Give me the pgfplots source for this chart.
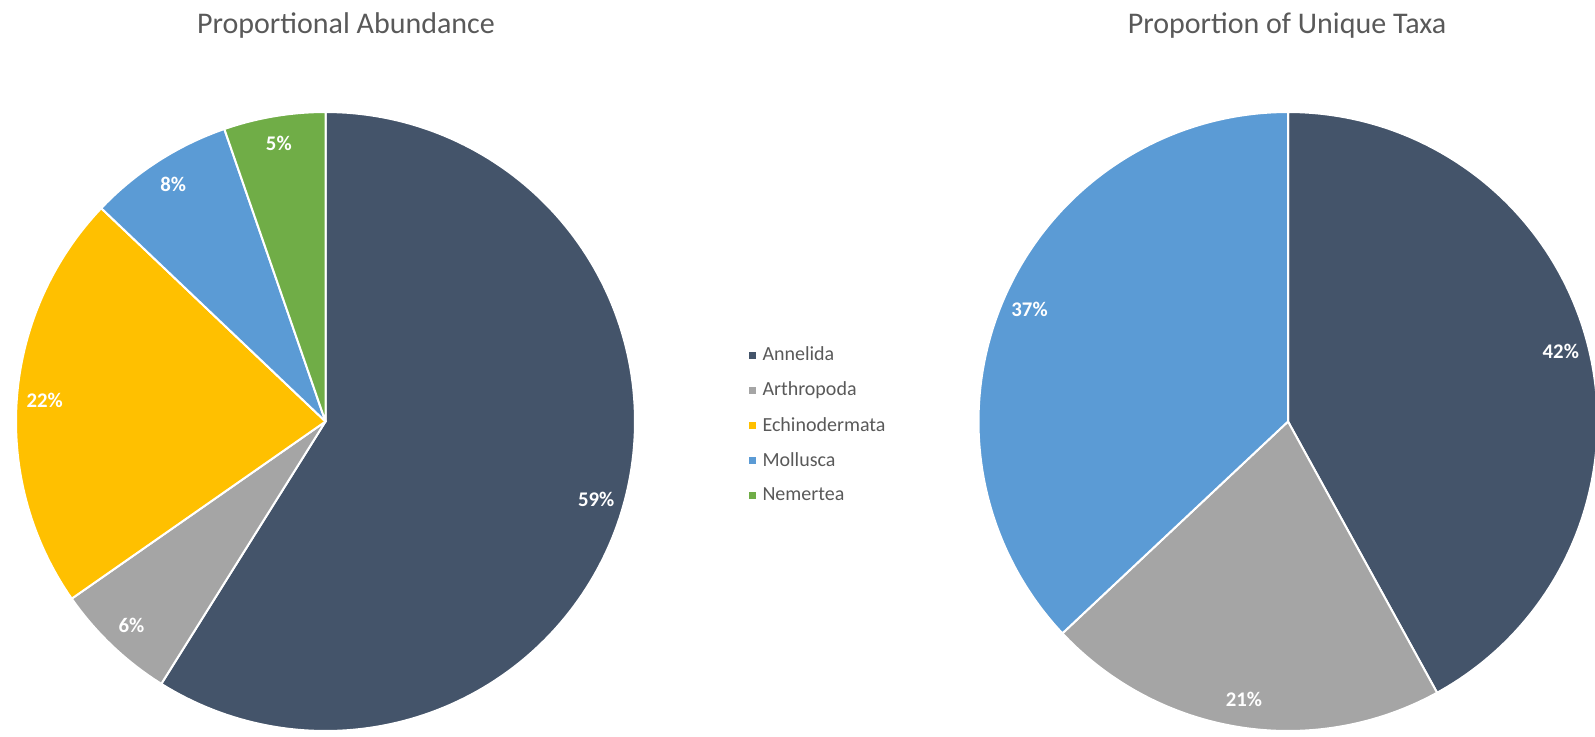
\documentclass[border=0pt]{standalone}
\usepackage{fontspec}
\setmainfont{Carlito}
\usepackage{pgfplots}
\usepackage{pgfplotstable}
\pgfplotsset{compat=1.18}

\definecolor{annel}{HTML}{44546A}
\definecolor{arth}{HTML}{A5A5A5}
\definecolor{echi}{HTML}{FFC000}
\definecolor{moll}{HTML}{5B9BD5}
\definecolor{nem}{HTML}{70AD47}
\definecolor{txtgray}{HTML}{595959}

\newcommand\titlefont{\fontsize{15pt}{18pt}\selectfont}
\newcommand\legendfont{\fontsize{10pt}{12pt}\selectfont}
\newcommand\labelfont{\fontsize{10.4pt}{12.5pt}\selectfont\bfseries}
\newcommand\legendskip[1]{}

% Proportional abundance (percent)
\pgfplotstableread{
name pct col
Annelida 58.9 annel
Arthropoda 6.4 arth
Echinodermata 21.8 echi
Mollusca 7.6 moll
Nemertea 5.3 nem
}\abund

% Proportion of unique taxa (percent)
\pgfplotstableread{
name pct col
Annelida 42 annel
Arthropoda 21 arth
Mollusca 37 moll
}\taxa

\newcommand\pieslices[2]{%
  \pgfplotstablegetrowsof{#1}%
  \pgfmathtruncatemacro\Nrows{\pgfplotsretval-1}%
  \def\cum{0}%
  \pgfplotsforeachungrouped \i in {0,...,\Nrows}{%
    \pgfplotstablegetelem{\i}{pct}\of#1\let\slicep\pgfplotsretval
    \pgfplotstablegetelem{\i}{col}\of#1\let\slicecol\pgfplotsretval
    \pgfplotstablegetelem{\i}{name}\of#1\let\slicename\pgfplotsretval
    \pgfmathsetmacro\sa{90-3.6*\cum}%
    \pgfmathsetmacro\sb{90-3.6*(\cum+\slicep)}%
    \pgfmathsetmacro\sm{(\sa+\sb)/2}%
    \pgfmathsetmacro\lx{0.91*cos(\sm)}%
    \pgfmathsetmacro\ly{0.91*sin(\sm)}%
    \pgfmathtruncatemacro\lab{round(\slicep)}%
    \edef\temp{%
      \noexpand\addplot[fill=\slicecol, draw=white, line width=1pt, line join=round, domain=\sb:\sa, samples=160] ({cos(x)},{sin(x)}) -- (axis cs:0,0) -- cycle;
      \noexpand#2{\slicename}
      \noexpand\node[font=\noexpand\labelfont, text=white] at (axis cs:\lx,\ly) {\lab\noexpand\%};
    }\temp
    \pgfmathsetmacro\cum{\cum+\slicep}%
  }%
}

\pgfplotsset{pie axis/.style={
  hide axis, scale only axis, width=309.5pt, height=309.5pt,
  xmin=-1, xmax=1, ymin=-1, ymax=1, clip=false, anchor=center}}

\begin{document}
\begin{tikzpicture}
\useasboundingbox (0,0) rectangle (797.5pt,368pt);
\node[anchor=base, font=\titlefont, text=txtgray] at (173pt,351.5pt) {Proportional Abundance};
\node[anchor=base, font=\titlefont, text=txtgray] at (643.5pt,351.5pt) {Proportion of Unique Taxa};

\begin{axis}[pie axis, at={(162.75pt,157.25pt)},
  legend cell align=left,
  legend image code/.code={\fill[#1, draw=none] (0pt,-1.75pt) rectangle (3.5pt,1.75pt);},
  legend style={draw=none, fill=none, inner sep=0pt, outer sep=0pt,
    at={(axis description cs:1.1842,0.4943)}, anchor=west,
    font=\legendfont, text=txtgray, row sep=9.1pt, column sep=1.5pt,
    nodes={inner sep=0pt, inner xsep=1.75pt}},
]
\pieslices{\abund}{\addlegendentry}
\end{axis}

\begin{axis}[pie axis, at={(644pt,157.25pt)}]
\pieslices{\taxa}{\legendskip}
\end{axis}
\end{tikzpicture}
\end{document}
